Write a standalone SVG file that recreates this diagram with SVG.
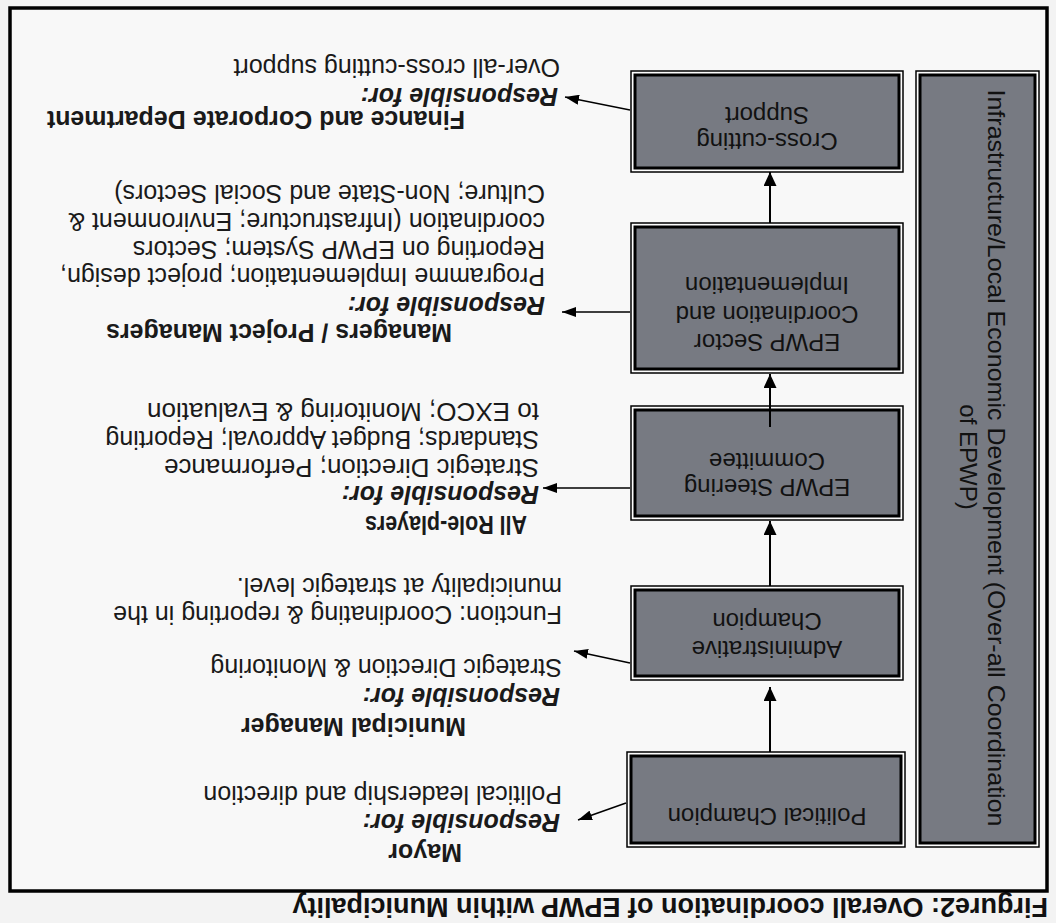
<svg xmlns="http://www.w3.org/2000/svg" width="1056" height="923" viewBox="0 0 1056 923">
<defs>
<marker id="ah" viewBox="0 0 14 13" refX="14" refY="6.5" markerWidth="14" markerHeight="13" markerUnits="userSpaceOnUse" orient="auto">
<path d="M0,0 L14,6.5 L0,13 z" fill="#000"/>
</marker>
<marker id="ahs" viewBox="0 0 14 10" refX="14" refY="5" markerWidth="14" markerHeight="10" markerUnits="userSpaceOnUse" orient="auto">
<path d="M0,0 L14,5 L0,10 z" fill="#000"/>
</marker>
<style>
.bo{fill:#fdfdfd;stroke:#000;stroke-width:1.5}
.bi{fill:#777a82;stroke:#000;stroke-width:3}
.bl{font-family:"Liberation Sans",Arial,sans-serif;font-size:24px;fill:#111;text-anchor:middle}
.tx{font-family:"Liberation Sans",Arial,sans-serif;font-size:25px;fill:#1a1a1a}
.hd{font-weight:bold}
.rs{font-weight:bold;font-style:italic}
.vc{stroke:#000;stroke-width:2;fill:none}
.sc{stroke:#000;stroke-width:1.5;fill:none}
</style>
</defs>
<rect x="0" y="0" width="1056" height="923" fill="#f3f3f3"/>
<g transform="rotate(180 528 461.5)">
<g id="title">
<text x="8" y="25" font-family="'Liberation Sans',Arial,sans-serif" font-size="27" font-weight="bold" fill="#111">Firgure2: Overall coordination of EPWP within Municipality</text>
</g>
<g id="frame">
<rect x="9" y="32" width="1037" height="883" fill="#f8f8f8" stroke="#000" stroke-width="3.5"/>
</g>
<g id="infrastructure">
<rect class="bo" x="17" y="76" width="123" height="776"/>
<rect class="bi" x="21" y="80" width="115" height="768"/>
<text class="bl" font-size="25" textLength="737" lengthAdjust="spacingAndGlyphs" transform="translate(68 465) rotate(-90)">Infrastructure/Local Economic Development (Over-all Coordination</text>
<text class="bl" font-size="25" transform="translate(96 466) rotate(-90)">of EPWP)</text>
</g>
<g id="political-champion">
<rect class="bo" x="151" y="76" width="278" height="95"/>
<rect class="bi" x="155" y="80" width="270" height="87"/>
<text class="bl" x="289" y="115">Political Champion</text>
</g>
<g id="administrative-champion">
<rect class="bo" x="153" y="243" width="272" height="94"/>
<rect class="bi" x="157" y="247" width="264" height="86"/>
<text class="bl" x="289" y="282">Administrative</text>
<text class="bl" x="289" y="310">Champion</text>
</g>
<g id="steering-committee">
<rect class="bo" x="153" y="403" width="272" height="114"/>
<rect class="bi" x="157" y="407" width="264" height="106"/>
<text class="bl" x="289" y="444">EPWP Steering</text>
<text class="bl" x="289" y="470">Committee</text>
</g>
<g id="sector-coordination">
<rect class="bo" x="153" y="550" width="272" height="150"/>
<rect class="bi" x="157" y="554" width="264" height="142"/>
<text class="bl" x="289" y="589">EPWP Sector</text>
<text class="bl" x="289" y="617">Coordination and</text>
<text class="bl" x="289" y="646">Implementation</text>
</g>
<g id="cross-cutting">
<rect class="bo" x="153" y="751" width="272" height="101"/>
<rect class="bi" x="157" y="755" width="264" height="93"/>
<text class="bl" x="289" y="790">Cross-cutting</text>
<text class="bl" x="289" y="816">Support</text>
</g>
<g id="mayor">
<text class="tx hd" x="594" y="79">Mayor</text>
<text class="tx rs" x="496" y="109">Responsible for:</text>
<text class="tx" x="494" y="137">Political leadership and direction</text>
</g>
<g id="municipal-manager">
<text class="tx hd" x="590" y="205">Municipal Manager</text>
<text class="tx rs" x="496" y="235">Responsible for:</text>
<text class="tx" x="494" y="264">Strategic Direction &amp; Monitoring</text>
<text class="tx" x="494" y="317">Function: Coordinating &amp; reporting in the</text>
<text class="tx" x="494" y="345">municipality at strategic level.</text>
</g>
<g id="all-role-players">
<text class="tx hd" x="529" y="407" font-size="23" textLength="162" lengthAdjust="spacingAndGlyphs">All Role-players</text>
<text class="tx rs" x="517" y="437">Responsible for:</text>
<text class="tx" x="517" y="464" textLength="375" lengthAdjust="spacingAndGlyphs">Strategic Direction; Performance</text>
<text class="tx" x="517" y="492">Standards; Budget Approval; Reporting</text>
<text class="tx" x="517" y="520" textLength="392" lengthAdjust="spacingAndGlyphs">to EXCO; Monitoring &amp; Evaluation</text>
</g>
<g id="managers">
<text class="tx hd" x="604" y="599">Managers / Project Managers</text>
<text class="tx rs" x="511" y="626">Responsible for:</text>
<text class="tx" x="511" y="655">Programme Implementation; project design,</text>
<text class="tx" x="511" y="682">Reporting on EPWP System; Sectors</text>
<text class="tx" x="511" y="710">coordination (Infrastructure; Environment &amp;</text>
<text class="tx" x="511" y="738">Culture; Non-State and Social Sectors)</text>
</g>
<g id="finance">
<text class="tx hd" x="591" y="812">Finance and Corporate Department</text>
<text class="tx rs" x="498" y="835">Responsible for:</text>
<text class="tx" x="496" y="864">Over-all cross-cutting support</text>
</g>
<g id="connectors">
<line class="vc" x1="286" y1="171" x2="286" y2="236" marker-end="url(#ah)"/>
<line class="vc" x1="286" y1="337" x2="286" y2="402" marker-end="url(#ah)"/>
<line class="vc" x1="286" y1="496" x2="286" y2="549" marker-end="url(#ah)"/>
<line class="vc" x1="286" y1="700" x2="286" y2="751" marker-end="url(#ah)"/>
<line class="sc" x1="430" y1="120" x2="478" y2="103" marker-end="url(#ahs)"/>
<line class="sc" x1="426" y1="260" x2="482" y2="272" marker-end="url(#ahs)"/>
<line class="sc" x1="426" y1="435" x2="513" y2="435" marker-end="url(#ahs)"/>
<line class="sc" x1="426" y1="611" x2="494" y2="611" marker-end="url(#ahs)"/>
<line class="sc" x1="426" y1="813" x2="491" y2="826" marker-end="url(#ahs)"/>
</g>
</g>
</svg>
